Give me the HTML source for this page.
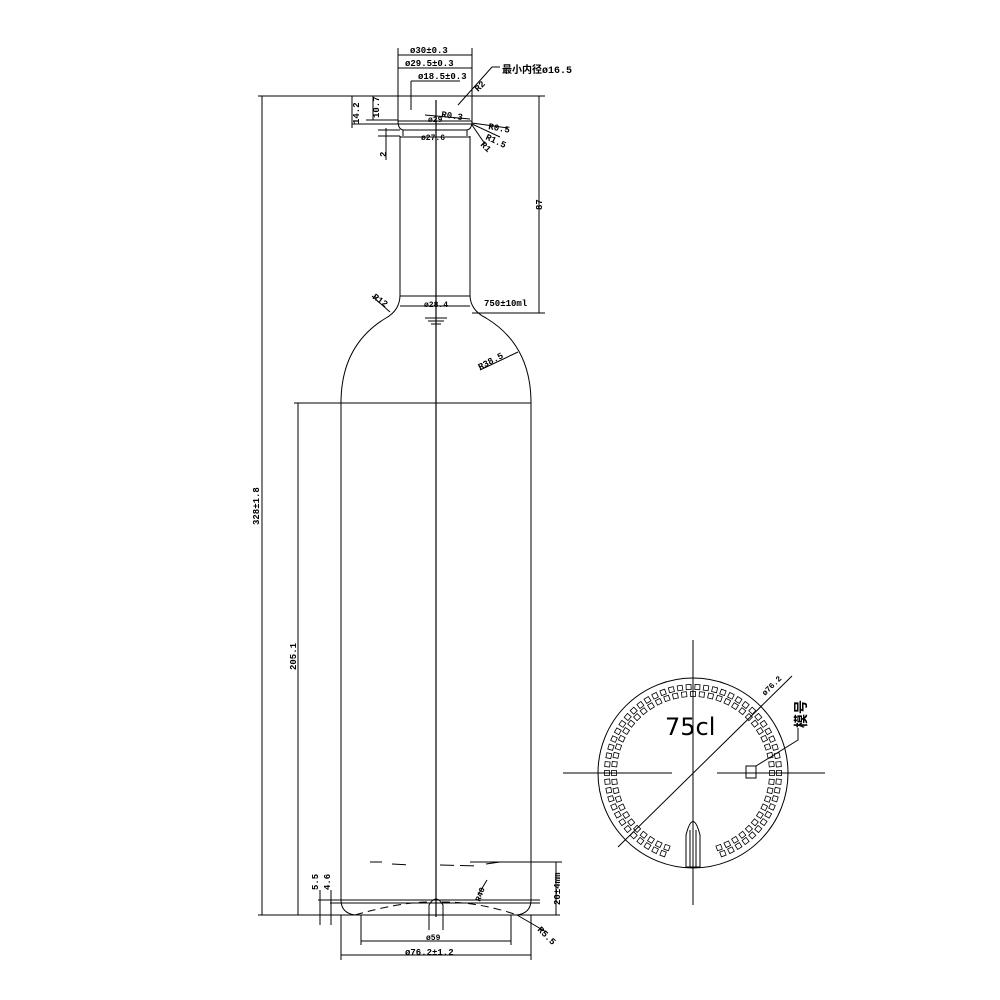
<!DOCTYPE html>
<html><head><meta charset="utf-8"><style>
html,body{margin:0;padding:0;background:#fff;}
svg{display:block}
text{font-family:"Liberation Mono","Noto Sans CJK SC",monospace;font-weight:bold;fill:#000}
</style></head><body>
<svg id="s" width="1000" height="1000" viewBox="0 0 1000 1000" xmlns="http://www.w3.org/2000/svg">
<g fill="none" stroke="#000" stroke-width="1">
<line x1="436" y1="100" x2="436" y2="917" stroke-width="1.2"/>
<path d="M398,96 L398,121 Q398,129 403,130 L403,136 M472,96 L472,121 Q472,129 467,130 L467,136"/>
<line x1="398" y1="121" x2="472" y2="121"/>
<line x1="398" y1="124" x2="472" y2="124"/>
<line x1="403" y1="130" x2="467" y2="130"/>
<path d="M400,136 L400,295 Q400,310 386,318 Q341,345 341,403 L341,900 Q341,913 355,915 L517,915 Q531,913 531,900 L531,403 Q531,345 486,318 Q470,310 470,295 L470,136"/>
<line x1="400" y1="296" x2="470" y2="296"/>
<line x1="340" y1="403" x2="531" y2="403"/>
<path d="M425,318 L447,318 M428,321 L444,321 M431,324 L441,324"/>
<line x1="318" y1="900" x2="540" y2="900"/>
<line x1="330" y1="903" x2="540" y2="903"/>
<path d="M355,915 Q400,902 430,902 M442,902 Q480,902 517,915" stroke-dasharray="8 5"/>
<path d="M429,915 L429,905 Q436,893 443,905 L443,915"/>
<path d="M370,862 L382,862 M392,864 L410,865 M440,865 L480,866 M486,864 L500,862" stroke-dasharray="14 6"/>
<line x1="258" y1="96" x2="545" y2="96"/>
<line x1="258" y1="915" x2="560" y2="915"/>
<line x1="262" y1="96" x2="262" y2="915"/>
<line x1="294" y1="403" x2="341" y2="403"/>
<line x1="298" y1="403" x2="298" y2="915"/>
<line x1="539" y1="96" x2="539" y2="313"/>
<line x1="472" y1="313" x2="545" y2="313"/>
<line x1="470" y1="862" x2="562" y2="862"/>
<line x1="556" y1="862" x2="556" y2="915"/>
<line x1="320" y1="890" x2="320" y2="925"/>
<line x1="331" y1="890" x2="331" y2="925"/>
<line x1="398" y1="48" x2="398" y2="96"/><line x1="472" y1="48" x2="472" y2="96"/>
<line x1="398" y1="55" x2="472" y2="55"/>
<line x1="398" y1="68" x2="472" y2="68"/>
<line x1="411" y1="81" x2="460" y2="81"/>
<line x1="411" y1="81" x2="411" y2="110"/>
<line x1="400" y1="137" x2="470" y2="137"/>
<line x1="400" y1="306" x2="470" y2="306"/>
<line x1="352" y1="96" x2="352" y2="128"/>
<line x1="373" y1="96" x2="373" y2="120"/>
<line x1="352" y1="124" x2="398" y2="124"/>
<line x1="366" y1="120" x2="398" y2="120"/>
<line x1="386" y1="128" x2="386" y2="160"/>
<line x1="378" y1="130" x2="400" y2="130"/><line x1="378" y1="136" x2="400" y2="136"/>
<path d="M458,105 L492,67 L500,67"/>
<path d="M425,115 L470,119"/>
<path d="M472,123 L508,128 M472,124 L500,137 M472,125 L485,144"/>
<path d="M390,312 L372,296"/>
<path d="M480,370 L518,352"/>
<path d="M517,915 L548,933"/>
<path d="M478,895 L487,880"/>
<line x1="361" y1="915" x2="361" y2="945"/><line x1="511" y1="915" x2="511" y2="945"/>
<line x1="361" y1="941" x2="511" y2="941"/>
<line x1="341" y1="915" x2="341" y2="960"/><line x1="531" y1="915" x2="531" y2="960"/>
<line x1="341" y1="955" x2="531" y2="955"/>
<line x1="429" y1="915" x2="429" y2="930"/><line x1="443" y1="915" x2="443" y2="930"/>
<line x1="693" y1="640" x2="693" y2="905"/>
<line x1="563" y1="773" x2="672" y2="773"/>
<line x1="717" y1="773" x2="825" y2="773"/>
<circle cx="693" cy="773" r="95"/>
<line x1="618" y1="847" x2="792" y2="676"/>
<rect x="746" y="766" width="10" height="12"/>
<path d="M756,766 L798,740 L798,728"/>
<path d="M686,867 L686,835 Q693,808 700,835 L700,867 Z"/>
<line x1="690" y1="830" x2="690" y2="867"/><line x1="696" y1="830" x2="696" y2="867"/>
<g id="sq" stroke-width="0.8"></g>
</g>
<g font-size="9">
<text x="410" y="53">ø30±0.3</text>
<text x="405" y="66">ø29.5±0.3</text>
<text x="418" y="79">ø18.5±0.3</text>
<text x="502" y="73" font-size="10">最小内径ø16.5</text>
<text x="441" y="117" transform="rotate(8 441 117)">R0.3</text>
<text x="428" y="122" font-size="8">ø29</text>
<text x="421" y="140" font-size="8">ø27.6</text>
<text x="488" y="129" transform="rotate(10 488 129)">R0.5</text>
<text x="485" y="139" transform="rotate(25 485 139)">R1.5</text>
<text x="480" y="145" transform="rotate(45 480 145)">R1</text>
<text x="478" y="92" transform="rotate(-45 478 92)">R2</text>
<text transform="translate(359,124) rotate(-90)">14.2</text>
<text transform="translate(379,118) rotate(-90)">10.7</text>
<text transform="translate(386,157) rotate(-90)">2</text>
<text transform="translate(542,210) rotate(-90)">87</text>
<text x="484" y="306">750±10ml</text>
<text x="424" y="307" font-size="8">ø28.4</text>
<text x="372" y="298" transform="rotate(35 372 298)">R12</text>
<text x="480" y="370" transform="rotate(-28 480 370)">R38.5</text>
<text transform="translate(259,525) rotate(-90)">328±1.8</text>
<text transform="translate(296,670) rotate(-90)">205.1</text>
<text transform="translate(318,890) rotate(-90)">5.5</text>
<text transform="translate(330,890) rotate(-90)">4.6</text>
<text transform="translate(560,905) rotate(-90)">20±4mm</text>
<text x="480" y="902" transform="rotate(-70 480 902)" font-size="8">R40</text>
<text x="537" y="930" transform="rotate(45 537 930)">R5.5</text>
<text x="426" y="940" font-size="8">ø59</text>
<text x="405" y="955">ø76.2±1.2</text>
<text x="765" y="696" transform="rotate(-45 765 696)" font-size="8">ø76.2</text>
<text x="665" y="735" font-size="24" style="font-family:'DejaVu Sans',sans-serif;font-weight:normal">75cl</text>
<text transform="translate(806,728) rotate(-90)" font-size="14">模号</text>
</g>
</svg>
<script>
var g=document.getElementById('sq'),ns='http://www.w3.org/2000/svg',cx=693,cy=773;
[[79,56],[86,62]].forEach(function(p){var r=p[0],n=p[1];for(var i=0;i<n;i++){var a=i/n*Math.PI*2;var d=Math.abs(((a*180/Math.PI)-90+540)%360-180);if(d<18)continue;var x=cx+r*Math.cos(a),y=cy+r*Math.sin(a);var e=document.createElementNS(ns,'rect');e.setAttribute('x',(x-2.5).toFixed(1));e.setAttribute('y',(y-2.5).toFixed(1));e.setAttribute('width',5);e.setAttribute('height',5);e.setAttribute('transform','rotate('+(a*180/Math.PI).toFixed(1)+' '+x.toFixed(1)+' '+y.toFixed(1)+')');g.appendChild(e);}});
</script>
</body></html>
